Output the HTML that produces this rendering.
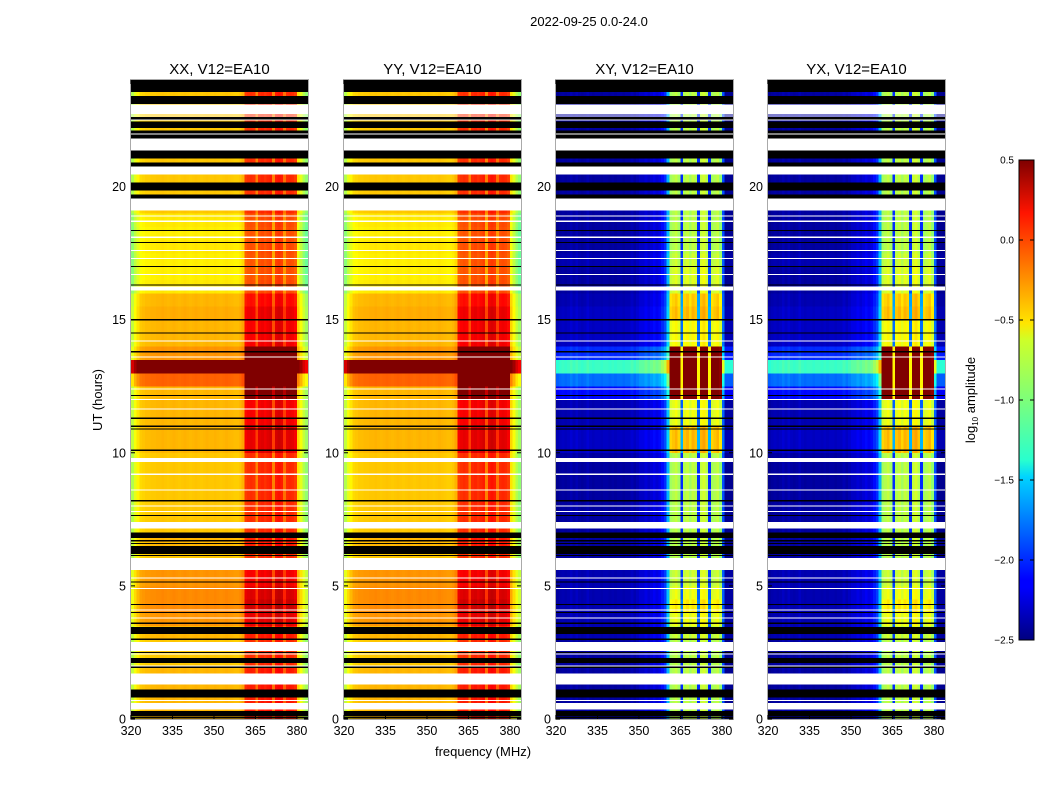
<!DOCTYPE html>
<html><head><meta charset="utf-8">
<style>
html,body{margin:0;padding:0;background:#fff;}
svg{display:block;font-family:"Liberation Sans","DejaVu Sans",sans-serif;}
</style></head>
<body>
<svg id="fig" width="1050" height="800" viewBox="0 0 1050 800" xmlns="http://www.w3.org/2000/svg">
<rect width="1050" height="800" fill="#fff"/>
<text x="589" y="26" font-size="13" text-anchor="middle">2022-09-25 0.0-24.0</text>
<text x="483" y="756" font-size="13" text-anchor="middle">frequency (MHz)</text>
<text transform="translate(102,400) rotate(-90)" font-size="13" text-anchor="middle">UT (hours)</text>
<text transform="translate(975,400) rotate(-90)" font-size="13" text-anchor="middle">log<tspan font-size="8" dy="3">10</tspan><tspan dy="-3"> amplitude</tspan></text>
<defs>
<linearGradient id="jet" x1="0" y1="1" x2="0" y2="0">
<stop offset="0" stop-color="#00007f"/><stop offset="0.11" stop-color="#0000ff"/><stop offset="0.125" stop-color="#0000ff"/>
<stop offset="0.34" stop-color="#00d4ff"/><stop offset="0.375" stop-color="#29ffce"/><stop offset="0.5" stop-color="#7dff7a"/>
<stop offset="0.625" stop-color="#ceff29"/><stop offset="0.66" stop-color="#ffe500"/><stop offset="0.89" stop-color="#ff1400"/>
<stop offset="1" stop-color="#7f0000"/></linearGradient>
</defs>
<g id="panels"></g>
<g id="cbar"></g>
</svg>
<script>
// ---- data ----
const panelTitles = ["XX, V12=EA10","YY, V12=EA10","XY, V12=EA10","YX, V12=EA10"];
const panelKind = ["par","par","cross","cross"];
const freqStart = 320, freqStep = 1; // 64 columns of 1 MHz
const freqTicks = [320,335,350,365,380];
const timeTicks = [0,5,10,15,20];
const colorTicks = [0.5,0.0,-0.5,-1.0,-1.5,-2.0,-2.5];
// frequency profile (log10 amplitude), parallel hands
const profPar = [-0.85,-0.7,-0.6,-0.52,-0.5,-0.48,-0.48,-0.47,-0.47,-0.46,-0.46,-0.45,-0.46,-0.47,-0.46,-0.45,-0.46,-0.47,-0.46,-0.45,
 -0.46,-0.47,-0.46,-0.45,-0.46,-0.47,-0.46,-0.45,-0.46,-0.46,-0.45,-0.46,-0.47,-0.46,-0.45,-0.46,-0.47,-0.48,-0.48,-0.46,
 -0.4,-0.05,-0.02,0.0,-0.02,-0.25,0.0,0.02,-0.02,0.02,0.05,-0.25,0.05,0.08,0.05,-0.2,0.0,0.02,0.0,-0.05,-0.55,-0.7,-0.85,-0.95];
// cross hands
const profCross = [-2.45,-2.42,-2.4,-2.42,-2.4,-2.35,-2.4,-2.35,-2.4,-2.42,-2.4,-2.35,-2.4,-2.42,-2.4,-2.4,-2.42,-2.4,-2.4,-2.42,
 -2.4,-2.42,-2.4,-2.4,-2.42,-2.4,-2.4,-2.35,-2.4,-2.35,-2.3,-2.3,-2.25,-2.3,-2.25,-2.2,-2.25,-2.2,-2.1,-2.0,
 -1.6,-0.9,-0.85,-0.8,-0.9,-2.0,-0.85,-0.8,-0.9,-0.8,-0.85,-2.0,-0.8,-0.75,-0.85,-2.0,-0.9,-0.85,-0.8,-0.95,-1.9,-2.45,-2.45,-2.45];
// row offsets, 48 half-hour bins from 0h (all columns)
const rowPar = [0.05,0.05,0.05,0.05,0.0,0.0,0.05,0.15,0.18,0.18,0.15,0.15,0.0,0.05,0.0,0.0,0.0,0.0,0.0,0.0,
 0.05,0.05,0.05,0.05,0.05,0.3,1.1,0.15,0.05,0.05,0.08,0.05,-0.1,-0.12,-0.12,-0.1,-0.12,-0.1,0.0,0.0,
 0.0,0.0,0.0,0.0,0.0,0.0,0.0,0.0];
const rowCross = [0.0,0.0,0.0,0.0,0.0,0.0,0.05,0.05,0.05,0.05,0.05,0.05,0.0,0.0,0.0,0.0,0.0,0.0,0.0,0.0,
 0.1,0.1,0.05,0.05,0.3,0.6,1.2,0.4,0.1,0.1,0.1,0.05,0.0,0.0,0.05,0.0,0.0,0.0,0.0,0.0,
 0.0,0.0,0.0,0.0,0.0,0.0,0.0,0.0];
// extra row offsets applied only inside the bright band (360-380 MHz)
const bandPar = [0,0,0,0,0,0,0,0.05,0.1,0.05,0,0,0,0,0,0,0,0,0,0,
 0.15,0.15,0.1,0.1,0.5,0.6,0,0.6,0.1,0.1,0.1,0.05,0,0,0,0,0,0,0,0,
 0,0,0,0,0,0,0,0];
const bandCross = [0,0,0,0,0,0,0,0.1,0.2,0.1,0,0,0,0,0,0,0,0,0,0,
 0.3,0.3,0.1,0.1,1.1,0.8,0.2,1.0,0.1,0.1,0.3,0.3,0.1,0.1,0,0,0,0,0,0,
 0,0,0,0,0,0,0,0];
// flagged segments [start h, end h, type]
const flagStart = [23.55,23.1,22.7,22.2,21.8,21.35,21.05,20.75,20.45,19.85,19.55,19.1,16.1,9.65,7.15,6.8,6.2,5.6,3.2,2.55,2.1,1.3,0.8,0.35,0.1];
const flagEnd   = [24.0,23.4,23.08,22.45,22.1,21.8,21.35,20.9,20.75,20.15,19.7,19.55,16.25,9.8,7.4,7.0,6.5,6.05,3.45,2.9,2.3,1.7,1.1,0.6,0.3];
const flagType  = ["k","k","w","k","k","w","k","k","w","k","k","w","w","w","w","k","k","w","k","w","k","w","k","w","k"];
const blackLines = [22.6,22.55,21.93,18.35,17.9,17.0,16.3,15.0,14.5,13.8,12.15,11.3,11.0,10.9,10.1,8.2,7.65,6.7,6.6,6.15,5.15,4.3,4.0,3.6,3.0,2.5,1.95,0.05];
const whiteLines = [22.65,22.5,21.98,18.9,18.7,18.1,17.6,17.3,16.7,14.2,13.6,12.4,12.0,11.65,9.2,8.6,8.0,7.8,5.3,4.9,4.1,3.8,2.45,2.0,0.7];

// ---- layout ----
const panelX = [131,344,556,768], panelW = 177, plotTop = 80, plotBot = 719;
const fMin = 320, fMax = 384, tMin = 0, tMax = 24, vMin = -2.5, vMax = 0.5;
const bandLo = 361, bandHi = 380;
const xs = (p,f) => panelX[p] + (f - fMin) / (fMax - fMin) * panelW;
const ys = t => plotBot - (t - tMin) / (tMax - tMin) * (plotBot - plotTop);
const NS = "http://www.w3.org/2000/svg";
function jet(v){
  let t = (v - vMin) / (vMax - vMin); t = Math.max(0, Math.min(1, t));
  const r = Math.max(0, Math.min(1, 1.5 - Math.abs(4*t - 3)));
  const g = Math.max(0, Math.min(1, 1.5 - Math.abs(4*t - 2)));
  const b = Math.max(0, Math.min(1, 1.5 - Math.abs(4*t - 1)));
  return `rgb(${Math.round(r*255)},${Math.round(g*255)},${Math.round(b*255)})`;
}
function mk(tag, attrs, parent){ const e = document.createElementNS(NS, tag); for (const k in attrs) e.setAttribute(k, attrs[k]); parent.appendChild(e); return e; }

const G = document.getElementById("panels");
for (let p = 0; p < 4; p++){
  const g = mk("g", {}, G);
  
  
  const par = panelKind[p] === "par";
  const prof = par ? profPar : profCross;
  const rows = par ? rowPar : rowCross;
  const band = par ? bandPar : bandCross;
  const hm = mk("g", {"shape-rendering":"crispEdges"}, g);
  
  
  for (let r = 0; r < rows.length; r++){
    const t0 = r * 0.5, t1 = t0 + 0.5;
    for (let c = 0; c < prof.length; c++){
      const f0 = freqStart + c * freqStep, f1 = f0 + freqStep;
      const inBand = f0 >= bandLo && f0 < bandHi;
      const v = prof[c] + rows[r] + (inBand ? band[r] : 0);
      const x0 = xs(p,f0), x1 = xs(p,f1), y0 = ys(t1), y1 = ys(t0);
      const cell = mk("rect", {x:x0, y:y0, width:x1-x0+0.4, height:y1-y0+0.4, fill:jet(v)}, hm);
      
      
    }
  }
  for (let i = 0; i < flagStart.length; i++){
    const fl = mk("rect", {x:panelX[p], y:ys(flagEnd[i]), width:panelW, height:ys(flagStart[i]) - ys(flagEnd[i]), fill: flagType[i] === "k" ? "#000" : "#fff"}, hm);
    
    
  }
  for (const t of blackLines){
    const l = mk("rect", {x:panelX[p], y:ys(t)-0.5, width:panelW, height:1.2, fill:"#000"}, hm);
    
    
  }
  for (const t of whiteLines){
    const l = mk("rect", {x:panelX[p], y:ys(t)-0.5, width:panelW, height:1.2, fill:"#fff"}, hm);
    
    
  }
  const fr = mk("rect", {x:panelX[p]-0.5, y:plotTop-0.5, width:panelW+1, height:plotBot-plotTop+1, fill:"none", stroke:"#aaa", "stroke-width":1}, g);
  
  
  const tt = mk("text", {x:panelX[p] + panelW/2, y:74, "font-size":15, "text-anchor":"middle"}, g);
  tt.textContent = panelTitles[p];
  
  
  for (const f of freqTicks){
    const x = xs(p,f);
    mk("line", {x1:x, x2:x, y1:plotBot, y2:plotBot-4, stroke:"#000"}, g);
    mk("line", {x1:x, x2:x, y1:plotTop, y2:plotTop+4, stroke:"#000"}, g);
    const tl = mk("text", {x:x, y:plotBot+16, "font-size":12.5, "text-anchor":"middle"}, g);
    tl.textContent = f;
    
    
  }
  for (const t of timeTicks){
    const y = ys(t);
    mk("line", {x1:panelX[p], x2:panelX[p]+4, y1:y, y2:y, stroke:"#000"}, g);
    mk("line", {x1:panelX[p]+panelW, x2:panelX[p]+panelW-4, y1:y, y2:y, stroke:"#000"}, g);
    const tl = mk("text", {x:panelX[p]-5, y:y+4.5, "font-size":12.5, "text-anchor":"end"}, g);
    tl.textContent = t;
    
    
  }
}
// colorbar
const CB = document.getElementById("cbar");
const cbx = 1019, cbw = 15, cbTop = 160, cbBot = 640;
const cy = v => cbBot - (v - vMin) / (vMax - vMin) * (cbBot - cbTop);
const cbr = mk("rect", {x:cbx, y:cbTop, width:cbw, height:cbBot-cbTop, fill:"url(#jet)", stroke:"#000", "stroke-width":1}, CB);


for (const v of colorTicks){
  const y = cy(v);
  mk("line", {x1:cbx, x2:cbx+4, y1:y, y2:y, stroke:"#000"}, CB);
  mk("line", {x1:cbx+cbw, x2:cbx+cbw-4, y1:y, y2:y, stroke:"#000"}, CB);
  const tl = mk("text", {x:1014, y:y+3.5, "font-size":10, "text-anchor":"end"}, CB);
  tl.textContent = v.toFixed(1).replace("-", "\u2212");
  
  
}
</script>
</body></html>
